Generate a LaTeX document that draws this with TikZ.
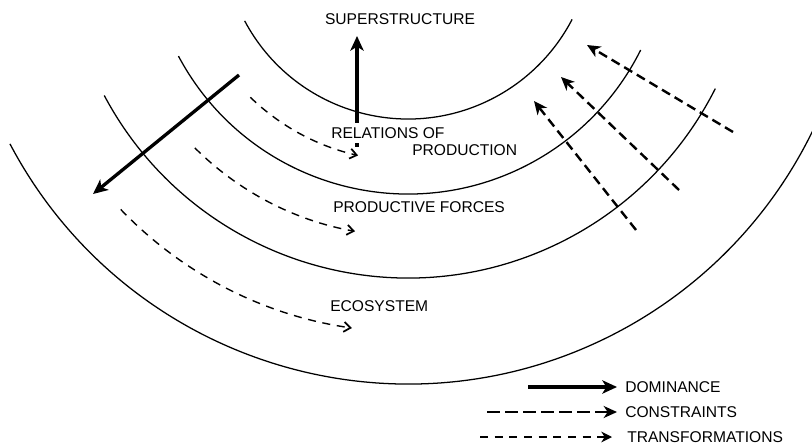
\documentclass[tikz,border=0pt]{standalone}
\usepackage{fontspec}
\setmainfont{Liberation Sans}
\usetikzlibrary{arrows.meta,calc}
\begin{document}
\begin{tikzpicture}[x=0.75pt,y=-0.75pt,
  ring/.style={line width=0.95pt},
  dominance/.style={line width=2.5pt,-{Stealth[length=11pt,width=10pt,inset=3pt]}},
  constraint/.style={line width=1.8pt,dash pattern=on 7pt off 4pt,-{Stealth[length=10pt,width=9pt,inset=3pt]}},
  transform/.style={line width=1.05pt,dash pattern=on 6pt off 5pt,-{Straight Barb[length=5pt,width=7.5pt,line width=1.3pt]}},
  txt/.style={font=\fontsize{11.7}{13}\selectfont, inner sep=0pt},
]
\useasboundingbox (0,0) rectangle (812,445);
\clip (0,0) rectangle (812,445);
\coordinate (C) at (408,-66);

% concentric rings
\draw[ring] ($(C)+(152:185)$) arc[start angle=152, end angle=27.5, radius=185];
\draw[ring] ($(C)+(152:260)$) arc[start angle=152, end angle=26.5, radius=260];
\draw[ring] ($(C)+(152:344)$) arc[start angle=152, end angle=26.7, radius=344];
\draw[ring] ($(C)+(152.2:450)$) arc[start angle=152.2, end angle=24, radius=450];

% dominance arrows
\coordinate (d1s) at (357,147);
\coordinate (d1e) at (357,36);
\draw[dominance] (d1s) -- (d1e);
\coordinate (d2s) at (239,75);
\coordinate (d2e) at (93,194);
\draw[dominance] (d2s) -- (d2e);

% labels
\node[txt] (sup) at (400,19) {SUPERSTRUCTURE};
\node[txt,anchor=west,fill=white,inner xsep=0pt,inner ysep=3pt] (rel) at (331,133) {RELATIONS OF};
\node[txt,anchor=west] (prod) at (412,150.5) {PRODUCTION};
\node[txt,anchor=west] (pf) at (333,207) {PRODUCTIVE FORCES};
\node[txt,anchor=west] (eco) at (330,306) {ECOSYSTEM};

% transformations (curved, concentric)
\coordinate (t1s) at ($(C)+(134:227)$);
\draw[transform] (t1s) arc[start angle=134, end angle=102.7, radius=227];
\coordinate (t2s) at ($(C)+(134.9:302)$);
\draw[transform] (t2s) arc[start angle=134.9, end angle=100.1, radius=302];
\coordinate (t3s) at ($(C)+(136.2:398)$);
\draw[transform] (t3s) arc[start angle=136.2, end angle=98.1, radius=398];

% constraints
\coordinate (c1s) at (733,132);
\coordinate (c1e) at (587,45);
\draw[constraint] (c1s) -- (c1e);
\coordinate (c2s) at (679,190);
\coordinate (c2e) at (561,77);
\draw[constraint] (c2s) -- (c2e);
\coordinate (c3s) at (636,230);
\coordinate (c3e) at (534,101);
\draw[constraint] (c3s) -- (c3e);

% legend
\node[txt,anchor=west] (ldom) at (625,387) {DOMINANCE};
\node[txt,anchor=west] (lcon) at (625,412) {CONSTRAINTS};
\node[txt,anchor=west] (ltra) at (627,437) {TRANSFORMATIONS};
\coordinate (ldoms) at (528,387);
\coordinate (lcons) at (487,412);
\coordinate (ltras) at (480,437);
\draw[dominance] (ldoms) -- ($(ldom.west)+(-8,0)$);
\draw[constraint,dash pattern=on 10pt off 3.5pt] (lcons) -- ($(lcon.west)+(-8,0)$);
\draw[transform,line width=1.3pt,-{Stealth[length=8pt,width=8pt,inset=2.5pt]}] (ltras) -- ($(ltra.west)+(-15,0)$);
\end{tikzpicture}
\end{document}
